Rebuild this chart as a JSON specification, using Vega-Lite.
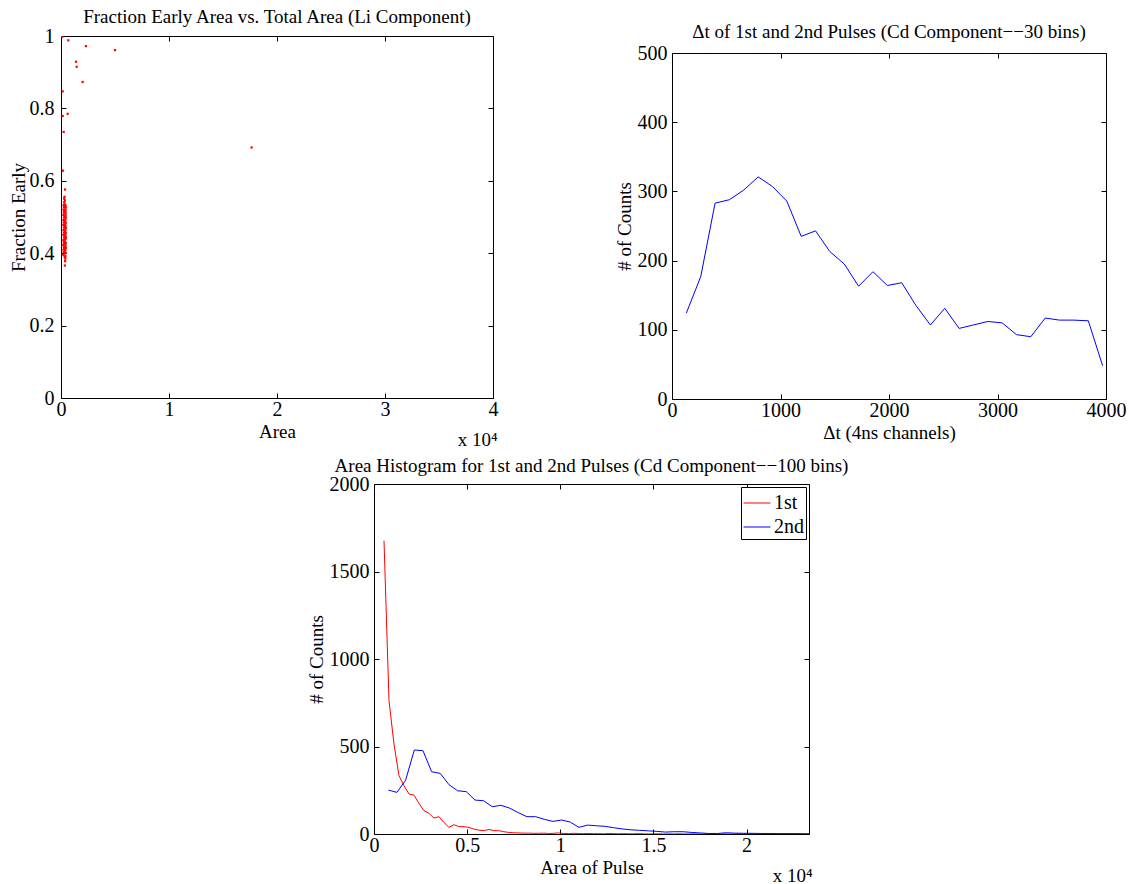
{
  "$schema": "https://vega.github.io/schema/vega-lite/v6.json",
  "background": "white",
  "padding": {"left": 8, "top": 6, "right": 3, "bottom": 3},
  "config": {
    "font": "Liberation Serif",
    "view": {"stroke": "black", "strokeWidth": 1},
    "axis": {"grid": false, "domain": false, "ticks": true, "tickColor": "black", "tickSize": -5, "labelPadding": 11, "labelColor": "black", "labelFont": "Liberation Serif", "labelFontSize": 20, "titleFont": "Liberation Serif", "titleFontSize": 19, "titleFontWeight": "normal", "titleColor": "black", "labelFlush": false, "labelOverlap": false, "titlePadding": 4, "minExtent": 0},
    "title": {"font": "Liberation Serif", "fontSize": 19, "fontWeight": "normal", "color": "black", "offset": 6},
    "legend": {"labelFont": "Liberation Serif", "labelFontSize": 20, "labelColor": "black"}
  },
  "datasets": {
    "scatter": [
      {"a":220,"f":0.395},{"a":300,"f":0.398},{"a":410,"f":0.392},
      {"a":250,"f":0.403},{"a":350,"f":0.405},{"a":440,"f":0.401},
      {"a":230,"f":0.41},{"a":320,"f":0.412},{"a":400,"f":0.409},
      {"a":270,"f":0.417},{"a":370,"f":0.418},{"a":450,"f":0.415},
      {"a":215,"f":0.423},{"a":310,"f":0.425},{"a":420,"f":0.422},
      {"a":260,"f":0.43},{"a":360,"f":0.431},{"a":445,"f":0.428},
      {"a":225,"f":0.436},{"a":330,"f":0.437},{"a":405,"f":0.439},
      {"a":280,"f":0.443},{"a":380,"f":0.445},{"a":455,"f":0.442},
      {"a":220,"f":0.45},{"a":315,"f":0.452},{"a":425,"f":0.449},
      {"a":265,"f":0.457},{"a":355,"f":0.458},{"a":440,"f":0.456},
      {"a":235,"f":0.464},{"a":325,"f":0.465},{"a":410,"f":0.463},
      {"a":275,"f":0.471},{"a":375,"f":0.472},{"a":450,"f":0.47},
      {"a":218,"f":0.478},{"a":305,"f":0.479},{"a":415,"f":0.477},
      {"a":255,"f":0.485},{"a":345,"f":0.486},{"a":435,"f":0.484},
      {"a":228,"f":0.492},{"a":335,"f":0.493},{"a":400,"f":0.491},
      {"a":285,"f":0.499},{"a":385,"f":0.5},{"a":448,"f":0.498},
      {"a":222,"f":0.506},{"a":312,"f":0.507},{"a":428,"f":0.505},
      {"a":262,"f":0.513},{"a":352,"f":0.514},{"a":438,"f":0.512},
      {"a":238,"f":0.52},{"a":328,"f":0.521},{"a":412,"f":0.519},
      {"a":272,"f":0.527},{"a":368,"f":0.528},{"a":446,"f":0.526},
      {"a":245,"f":0.533},{"a":340,"f":0.535},{"a":420,"f":0.532},
      {"a":300,"f":0.541},{"a":360,"f":0.546},{"a":290,"f":0.551},{"a":330,"f":0.556},{"a":370,"f":0.576},
      {"a":185,"f":0.628},{"a":400,"f":0.385},{"a":380,"f":0.378},{"a":360,"f":0.366},{"a":340,"f":0.389},
      {"a":30,"f":1.0},{"a":120,"f":0.998},{"a":676,"f":0.988},{"a":2315,"f":0.972},{"a":1389,"f":0.929},
      {"a":1450,"f":0.915},{"a":2006,"f":0.873},{"a":155,"f":0.847},{"a":617,"f":0.785},{"a":155,"f":0.779},
      {"a":247,"f":0.735},{"a":5000,"f":0.961},{"a":17650,"f":0.692}
    ],
    "dt": [
      {"t":132,"n":124},{"t":265,"n":177},{"t":397,"n":283},{"t":529,"n":288},{"t":662,"n":302},
      {"t":794,"n":321},{"t":926,"n":307},{"t":1058,"n":286},{"t":1191,"n":235},{"t":1323,"n":243},
      {"t":1455,"n":213},{"t":1588,"n":195},{"t":1720,"n":163},{"t":1852,"n":184},{"t":1985,"n":164},
      {"t":2117,"n":168},{"t":2249,"n":135},{"t":2381,"n":107},{"t":2514,"n":131},{"t":2646,"n":102},
      {"t":2778,"n":107},{"t":2911,"n":112},{"t":3043,"n":110},{"t":3175,"n":93},{"t":3307,"n":90},
      {"t":3440,"n":117},{"t":3572,"n":114},{"t":3704,"n":114},{"t":3837,"n":113},{"t":3969,"n":48}
    ],
    "hist": [
      {"s":"1st","a":537,"n":1676},{"s":"1st","a":805,"n":762},{"s":"1st","a":1073,"n":514},{"s":"1st","a":1341,"n":333},
      {"s":"1st","a":1609,"n":276},{"s":"1st","a":1877,"n":229},{"s":"1st","a":2145,"n":222},{"s":"1st","a":2413,"n":175},
      {"s":"1st","a":2681,"n":133},{"s":"1st","a":2949,"n":118},{"s":"1st","a":3217,"n":91},{"s":"1st","a":3485,"n":99},
      {"s":"1st","a":3753,"n":66},{"s":"1st","a":4021,"n":38},{"s":"1st","a":4289,"n":53},{"s":"1st","a":4557,"n":42},
      {"s":"1st","a":4825,"n":42},{"s":"1st","a":5093,"n":38},{"s":"1st","a":5361,"n":28},{"s":"1st","a":5629,"n":22},
      {"s":"1st","a":5897,"n":19},{"s":"1st","a":6165,"n":26},{"s":"1st","a":6433,"n":19},{"s":"1st","a":6701,"n":19},
      {"s":"1st","a":6969,"n":13},{"s":"1st","a":7237,"n":9},{"s":"1st","a":7505,"n":7},{"s":"1st","a":7773,"n":6},
      {"s":"1st","a":8041,"n":5},{"s":"1st","a":8309,"n":5},{"s":"1st","a":8577,"n":4},{"s":"1st","a":8845,"n":4},
      {"s":"1st","a":9113,"n":5},{"s":"1st","a":9381,"n":3},{"s":"1st","a":9649,"n":4},{"s":"1st","a":9917,"n":6},
      {"s":"1st","a":10185,"n":3},{"s":"1st","a":10453,"n":2},{"s":"1st","a":10721,"n":4},{"s":"1st","a":10989,"n":3},
      {"s":"1st","a":11257,"n":2},{"s":"1st","a":11525,"n":3},{"s":"1st","a":11793,"n":2},{"s":"1st","a":12061,"n":2},
      {"s":"1st","a":12329,"n":1},{"s":"1st","a":12597,"n":3},{"s":"1st","a":12865,"n":2},{"s":"1st","a":13133,"n":1},
      {"s":"1st","a":13401,"n":2},{"s":"1st","a":13669,"n":1},{"s":"1st","a":13937,"n":1},{"s":"1st","a":14205,"n":2},
      {"s":"1st","a":14473,"n":1},{"s":"1st","a":14741,"n":0},{"s":"1st","a":15009,"n":1},{"s":"1st","a":15277,"n":1},
      {"s":"1st","a":15545,"n":0},{"s":"1st","a":15813,"n":1},{"s":"1st","a":16081,"n":0},{"s":"1st","a":16349,"n":1},
      {"s":"1st","a":16617,"n":0},{"s":"1st","a":16885,"n":0},{"s":"1st","a":17153,"n":1},{"s":"1st","a":17421,"n":0},
      {"s":"1st","a":17689,"n":0},{"s":"1st","a":17957,"n":0},{"s":"1st","a":18225,"n":1},{"s":"1st","a":18493,"n":0},
      {"s":"1st","a":18761,"n":0},{"s":"1st","a":19029,"n":0},{"s":"1st","a":19297,"n":0},{"s":"1st","a":19565,"n":1},
      {"s":"1st","a":19833,"n":0},{"s":"1st","a":20101,"n":0},{"s":"1st","a":20369,"n":0},{"s":"1st","a":20637,"n":0},
      {"s":"1st","a":20905,"n":0},{"s":"1st","a":21173,"n":0},{"s":"1st","a":21441,"n":0},{"s":"1st","a":21709,"n":0},
      {"s":"1st","a":21977,"n":0},{"s":"1st","a":22245,"n":0},{"s":"1st","a":22513,"n":0},{"s":"1st","a":22781,"n":0},
      {"s":"1st","a":23049,"n":0},{"s":"1st","a":23317,"n":0},{"s":"1st","a":23585,"n":0},
      {"s":"2nd","a":769,"n":251},{"s":"2nd","a":1234,"n":238},{"s":"2nd","a":1699,"n":308},{"s":"2nd","a":2164,"n":480},
      {"s":"2nd","a":2629,"n":476},{"s":"2nd","a":3094,"n":356},{"s":"2nd","a":3559,"n":346},{"s":"2nd","a":4024,"n":282},
      {"s":"2nd","a":4489,"n":247},{"s":"2nd","a":4954,"n":242},{"s":"2nd","a":5419,"n":194},{"s":"2nd","a":5884,"n":190},
      {"s":"2nd","a":6349,"n":156},{"s":"2nd","a":6814,"n":164},{"s":"2nd","a":7279,"n":148},{"s":"2nd","a":7744,"n":122},
      {"s":"2nd","a":8209,"n":99},{"s":"2nd","a":8674,"n":99},{"s":"2nd","a":9139,"n":84},{"s":"2nd","a":9604,"n":72},
      {"s":"2nd","a":10069,"n":80},{"s":"2nd","a":10534,"n":68},{"s":"2nd","a":10999,"n":38},{"s":"2nd","a":11464,"n":51},
      {"s":"2nd","a":11929,"n":47},{"s":"2nd","a":12394,"n":44},{"s":"2nd","a":12859,"n":36},{"s":"2nd","a":13324,"n":29},
      {"s":"2nd","a":13789,"n":24},{"s":"2nd","a":14254,"n":21},{"s":"2nd","a":14719,"n":18},{"s":"2nd","a":15184,"n":15},
      {"s":"2nd","a":15649,"n":11},{"s":"2nd","a":16114,"n":13},{"s":"2nd","a":16579,"n":13},{"s":"2nd","a":17044,"n":9},
      {"s":"2nd","a":17509,"n":6},{"s":"2nd","a":17974,"n":3},{"s":"2nd","a":18439,"n":3},{"s":"2nd","a":18904,"n":7},
      {"s":"2nd","a":19369,"n":5},{"s":"2nd","a":19834,"n":4},{"s":"2nd","a":20299,"n":4},{"s":"2nd","a":20764,"n":3},
      {"s":"2nd","a":21229,"n":3},{"s":"2nd","a":21694,"n":2},{"s":"2nd","a":22159,"n":2},{"s":"2nd","a":22624,"n":2},
      {"s":"2nd","a":23089,"n":1},{"s":"2nd","a":23554,"n":1}
    ]
  },
  "spacing": 6,
  "resolve": {"scale": {"color": "independent"}, "legend": {"color": "independent"}},
  "vconcat": [
    {
      "spacing": 115,
      "hconcat": [
        {
          "spacing": 0,
          "vconcat": [
            {
              "width": 1,
              "height": 1,
              "view": {"stroke": null},
              "data": {"values": []},
              "mark": {"type": "point", "opacity": 0},
              "encoding": {}
            },
            {
              "title": {"text": "Fraction Early Area vs. Total Area (Li Component)", "offset": -1},
              "width": 432,
              "height": 362,
              "data": {"name": "scatter"},
              "layer": [
                {
                  "mark": {"type": "point", "shape": "square", "size": 5, "filled": true, "color": "#ff0000", "opacity": 1, "clip": true},
                  "encoding": {
                    "x": {"field": "a", "type": "quantitative", "scale": {"domain": [0, 40000], "nice": false}, "axis": {"orient": "bottom", "values": [0, 10000, 20000, 30000, 40000], "labelExpr": "datum.value / 10000", "title": "Area", "titlePadding": 3, "labelPadding": 6}},
                    "y": {"field": "f", "type": "quantitative", "scale": {"domain": [0, 1], "nice": false}, "axis": {"orient": "left", "values": [0, 0.2, 0.4, 0.6, 0.8, 1], "format": "~g", "title": "Fraction Early", "titlePadding": 1, "labelPadding": 12}}
                  }
                },
                {
                  "mark": {"type": "point", "opacity": 0, "size": 0},
                  "encoding": {
                    "x": {"field": "a", "type": "quantitative", "axis": {"orient": "top", "values": [0, 10000, 20000, 30000, 40000], "labels": false, "title": null}},
                    "y": {"field": "f", "type": "quantitative", "axis": {"orient": "right", "values": [0, 0.2, 0.4, 0.6, 0.8, 1], "labels": false, "title": null}}
                  }
                },
                {
                  "mark": {"type": "point", "opacity": 0, "size": 0},
                  "encoding": {
                    "x": {"field": "a", "type": "quantitative", "axis": {"orient": "bottom", "labels": false, "ticks": false, "title": "x 10⁴", "titleAnchor": "end", "titleAlign": "right", "titleX": 436, "titleY": 47, "titleBaseline": "alphabetic", "titleFontSize": 19}},
                    "y": {"field": "f", "type": "quantitative", "axis": null}
                  }
                }
              ],
              "resolve": {"axis": {"x": "independent", "y": "independent"}}
            }
          ]
        },
        {
          "spacing": 15,
          "vconcat": [
            {
              "width": 1,
              "height": 1,
              "view": {"stroke": null},
              "data": {"values": []},
              "mark": {"type": "point", "opacity": 0},
              "encoding": {}
            },
            {
              "title": {"text": "Δt of 1st and 2nd Pulses (Cd Component−−30 bins)", "offset": 1},
              "width": 434,
              "height": 346,
              "data": {"name": "dt"},
              "layer": [
                {
                  "mark": {"type": "line", "color": "#0000ff", "strokeWidth": 1},
                  "encoding": {
                    "x": {"field": "t", "type": "quantitative", "scale": {"domain": [0, 4000], "nice": false}, "axis": {"orient": "bottom", "values": [0, 1000, 2000, 3000, 4000], "format": "d", "title": "Δt (4ns channels)", "titlePadding": 3, "labelPadding": 6}},
                    "y": {"field": "n", "type": "quantitative", "scale": {"domain": [0, 500], "nice": false}, "axis": {"orient": "left", "values": [0, 100, 200, 300, 400, 500], "format": "d", "title": "# of Counts", "titlePadding": 3, "labelPadding": 10}}
                  }
                },
                {
                  "mark": {"type": "point", "opacity": 0, "size": 0},
                  "encoding": {
                    "x": {"field": "t", "type": "quantitative", "axis": {"orient": "top", "values": [0, 1000, 2000, 3000, 4000], "labels": false, "title": null}},
                    "y": {"field": "n", "type": "quantitative", "axis": {"orient": "right", "values": [0, 100, 200, 300, 400, 500], "labels": false, "title": null}}
                  }
                }
              ],
              "resolve": {"axis": {"x": "independent", "y": "independent"}}
            }
          ]
        }
      ]
    },
    {
      "spacing": 0,
      "resolve": {"scale": {"color": "independent"}, "legend": {"color": "independent"}},
      "hconcat": [
        {
          "width": 245,
          "height": 1,
          "view": {"stroke": null},
          "data": {"values": []},
          "mark": {"type": "point", "opacity": 0},
          "encoding": {}
        },
        {
          "title": {"text": "Area Histogram for 1st and 2nd Pulses (Cd Component−−100 bins)", "offset": -2},
          "width": 435,
          "height": 350,
          "data": {"name": "hist"},
          "layer": [
            {
              "mark": {"type": "line", "strokeWidth": 1, "clip": true},
              "encoding": {
                "x": {"field": "a", "type": "quantitative", "scale": {"domain": [0, 23350], "nice": false}, "axis": {"orient": "bottom", "values": [0, 5000, 10000, 15000, 20000], "labelExpr": "datum.value / 10000", "title": "Area of Pulse", "titlePadding": 3, "labelPadding": 6}},
                "y": {"field": "n", "type": "quantitative", "scale": {"domain": [0, 2000], "nice": false}, "axis": {"orient": "left", "values": [0, 500, 1000, 1500, 2000], "format": "d", "title": "# of Counts", "titlePadding": 3, "labelPadding": 10}},
                "color": {"field": "s", "type": "nominal", "scale": {"domain": ["1st", "2nd"], "range": ["#ff0000", "#0000ff"]}, "legend": {"orient": "top-right", "offset": 3, "title": null, "strokeColor": "black", "fillColor": "white", "padding": 2, "symbolType": "M-1,0H1", "symbolSize": 729, "symbolStrokeWidth": 1, "labelFontSize": 20, "rowPadding": 0, "labelOffset": 3}}
              }
            },
            {
              "mark": {"type": "point", "opacity": 0, "size": 0},
              "encoding": {
                "x": {"field": "a", "type": "quantitative", "axis": {"orient": "top", "values": [0, 5000, 10000, 15000, 20000], "labels": false, "title": null}},
                "y": {"field": "n", "type": "quantitative", "axis": {"orient": "right", "values": [0, 500, 1000, 1500, 2000], "labels": false, "title": null}}
              }
            },
            {
              "mark": {"type": "point", "opacity": 0, "size": 0},
              "encoding": {
                "x": {"field": "a", "type": "quantitative", "axis": {"orient": "bottom", "labels": false, "ticks": false, "title": "x 10⁴", "titleAnchor": "end", "titleAlign": "right", "titleX": 438, "titleY": 47, "titleBaseline": "alphabetic", "titleFontSize": 19}},
                "y": {"field": "n", "type": "quantitative", "axis": null}
              }
            }
          ],
          "resolve": {"axis": {"x": "independent", "y": "independent"}}
        }
      ]
    }
  ]
}
